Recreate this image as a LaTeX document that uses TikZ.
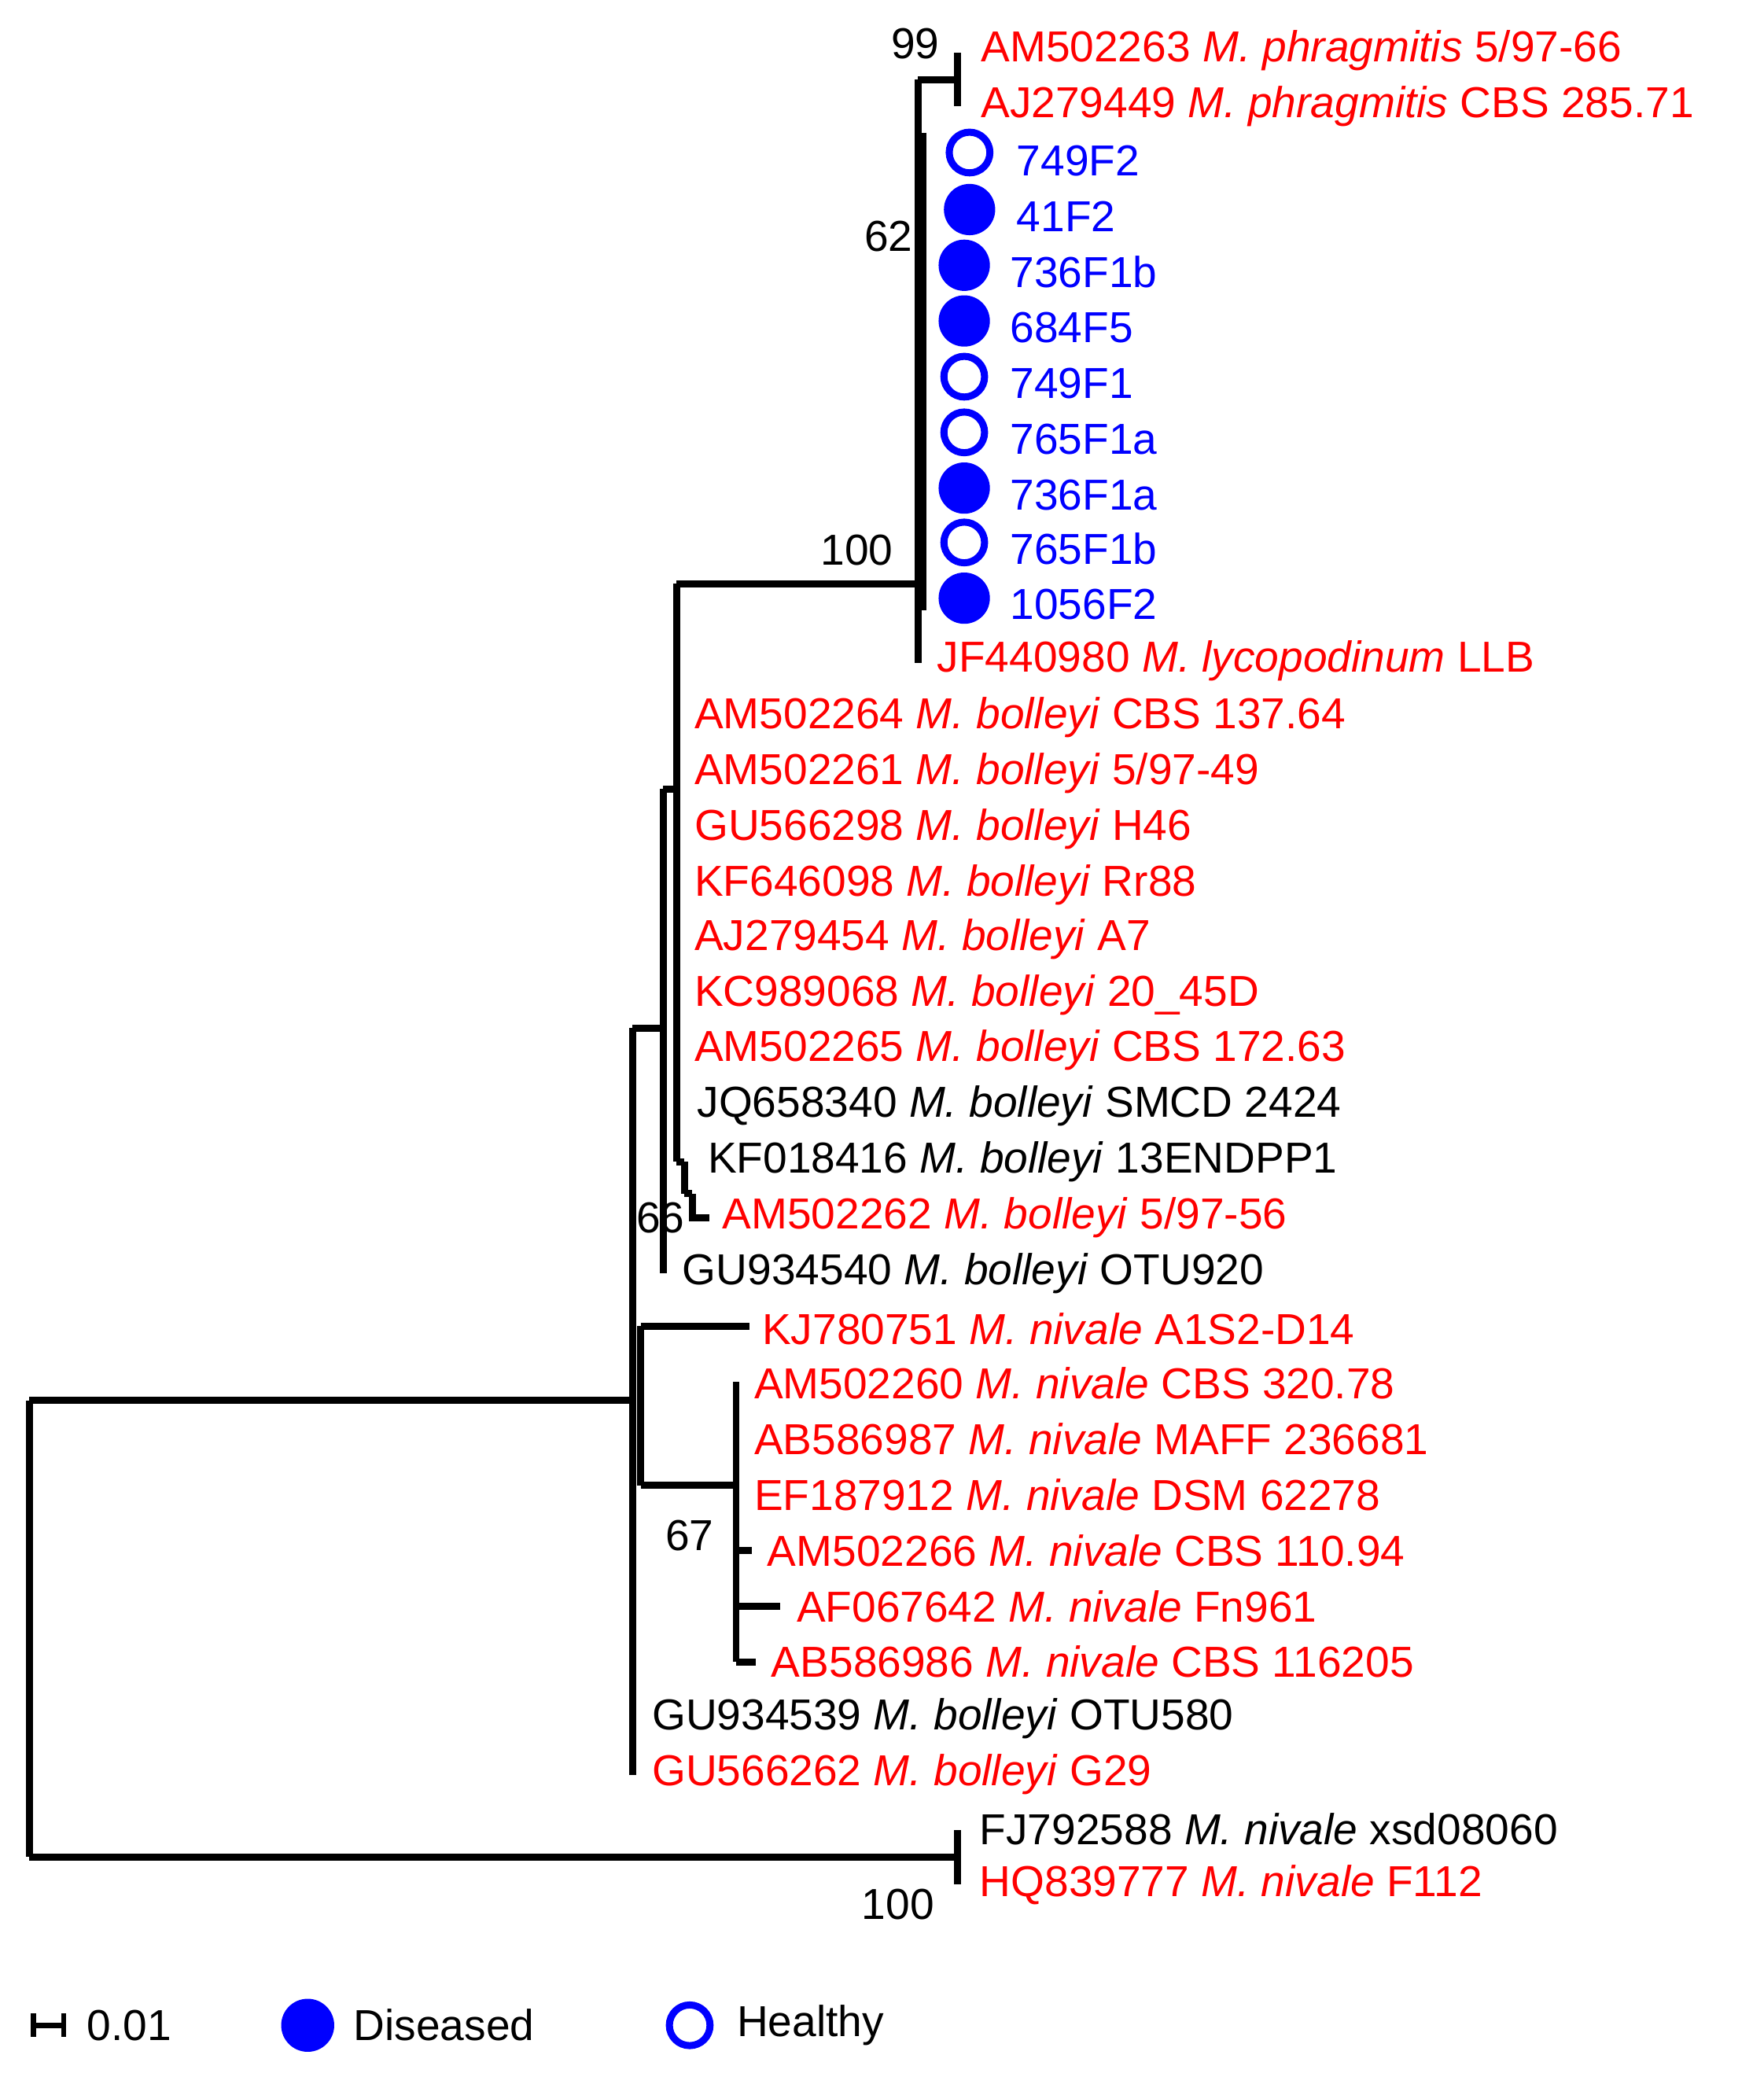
\documentclass[tikz,border=0pt]{standalone}
\usepackage{fontspec}
\setmainfont{Liberation Sans}
\definecolor{lred}{RGB}{255,0,0}
\definecolor{lblue}{RGB}{0,0,255}
\tikzset{every picture/.style={line width=4pt}}
\tikzset{lab/.style={anchor=west,inner sep=0.75pt,font=\fontsize{24.5}{28}\selectfont},
  rl/.style={lab,text=lred}, bl/.style={lab,text=lblue}, kl/.style={lab,text=black},
  sup/.style={inner sep=0.75pt,font=\fontsize{24.5}{28}\selectfont},
  dis/.style={circle,fill=lblue,minimum size=29pt,inner sep=0pt},
  hea/.style={circle,draw=lblue,line width=4pt,minimum size=23pt,inner sep=0pt}}

\begin{document}
\begin{tikzpicture}[x=0.75pt,y=0.75pt,yscale=-1,xscale=1]
\useasboundingbox (0,0) rectangle (1330,1566);

%Root
\draw (22,1056) -- (22,1400) ;
\draw (22,1056) -- (477,1056) ;
\draw (22,1400) -- (722,1400) ;
\draw (722,1380) -- (722,1421) ;
%Main clade
\draw (477,775) -- (477,1338) ;
\draw (477,775) -- (500,775) ;
\draw (500,595) -- (500,960) ;
\draw (500,595) -- (510,595) ;
\draw (510,440) -- (510,876) ;
\draw (510,440) -- (692,440) ;
\draw (692,60) -- (692,500) ;
\draw (692,60) -- (722,60) ;
\draw (722,40) -- (722,80) ;
\draw (696,100) -- (696,460) ;
\draw (510,876) -- (516,876) ;
\draw (516,876) -- (516,900) ;
\draw (516,900) -- (522,900) ;
\draw (522,900) -- (522,918) -- (535,918) ;
%Nivale clade
\draw (483,1000) -- (483,1120) ;
\draw (483,1000) -- (565,1000) ;
\draw (483,1120) -- (555,1120) ;
\draw (555,1042) -- (555,1253) ;
\draw (555,1169) -- (567,1169) ;
\draw (555,1211) -- (588,1211) ;
\draw (555,1253) -- (570,1253) ;

% Text Node
\draw (736,38) node [rl] {AM502263 \textit{M. phragmitis} 5/97-66};
\draw (736,80) node [rl] {AJ279449 \textit{M. phragmitis} CBS 285.71};
\draw (731,115) node [hea] {};
\draw (763,121) node [bl] {749F2};
\draw (731,158) node [dis] {};
\draw (763,163) node [bl] {41F2};
\draw (727,200) node [dis] {};
\draw (758,205) node [bl] {736F1b};
\draw (727,242) node [dis] {};
\draw (758,247) node [bl] {684F5};
\draw (727,284) node [hea] {};
\draw (758,289) node [bl] {749F1};
\draw (727,326) node [hea] {};
\draw (758,331) node [bl] {765F1a};
\draw (727,368) node [dis] {};
\draw (758,373) node [bl] {736F1a};
\draw (727,409) node [hea] {};
\draw (758,414) node [bl] {765F1b};
\draw (727,451) node [dis] {};
\draw (758,456) node [bl] {1056F2};
\draw (703,498) node [rl] {JF440980 \textit{M. lycopodinum} LLB};
\draw (520,541) node [rl] {AM502264 \textit{M. bolleyi} CBS 137.64};
\draw (520,583) node [rl] {AM502261 \textit{M. bolleyi} 5/97-49};
\draw (520,625) node [rl] {GU566298 \textit{M. bolleyi} H46};
\draw (520,667) node [rl] {KF646098 \textit{M. bolleyi} Rr88};
\draw (520,708) node [rl] {AJ279454 \textit{M. bolleyi} A7};
\draw (520,750) node [rl] {KC989068 \textit{M. bolleyi} 20\_45D};
\draw (520,792) node [rl] {AM502265 \textit{M. bolleyi} CBS 172.63};
\draw (522,834) node [kl] {JQ658340 \textit{M. bolleyi} SMCD 2424};
\draw (530,876) node [kl] {KF018416 \textit{M. bolleyi} 13ENDPP1};
\draw (541,918) node [rl] {AM502262 \textit{M. bolleyi} 5/97-56};
\draw (511,960) node [kl] {GU934540 \textit{M. bolleyi} OTU920};
\draw (571,1002) node [rl] {KJ780751 \textit{M. nivale} A1S2-D14};
\draw (565,1043) node [rl] {AM502260 \textit{M. nivale} CBS 320.78};
\draw (565,1085) node [rl] {AB586987 \textit{M. nivale} MAFF 236681};
\draw (565,1127) node [rl] {EF187912 \textit{M. nivale} DSM 62278};
\draw (575,1169) node [rl] {AM502266 \textit{M. nivale} CBS 110.94};
\draw (597,1211) node [rl] {AF067642 \textit{M. nivale} Fn961};
\draw (578,1253) node [rl] {AB586986 \textit{M. nivale} CBS 116205};
\draw (488,1296) node [kl] {GU934539 \textit{M. bolleyi} OTU580};
\draw (488,1338) node [rl] {GU566262 \textit{M. bolleyi} G29};
\draw (735,1379) node [kl] {FJ792588 \textit{M. nivale} xsd08060};
\draw (735,1421) node [rl] {HQ839777 \textit{M. nivale} F112};
% Support values
\draw (690,33) node [sup] {99};
\draw (670,178) node [sup] {62};
\draw (646,415) node [sup] {100};
\draw (498,918) node [sup] {66};
\draw (520,1158) node [sup] {67};
\draw (677,1436) node [sup] {100};

% Legend
\draw [line width=3pt] (25,1527) -- (48,1527) ;
\draw [line width=3pt] (25,1518) -- (25,1536) ;
\draw [line width=3pt] (48,1518) -- (48,1536) ;
\draw (62,1527) node [kl] {0.01};
\draw (232,1527) node [dis,minimum size=30pt] {};
\draw (263,1527) node [kl] {Diseased};
\draw (520,1527) node [hea] {};
\draw (552,1527) node [kl] {Healthy};

\end{tikzpicture}
\end{document}
